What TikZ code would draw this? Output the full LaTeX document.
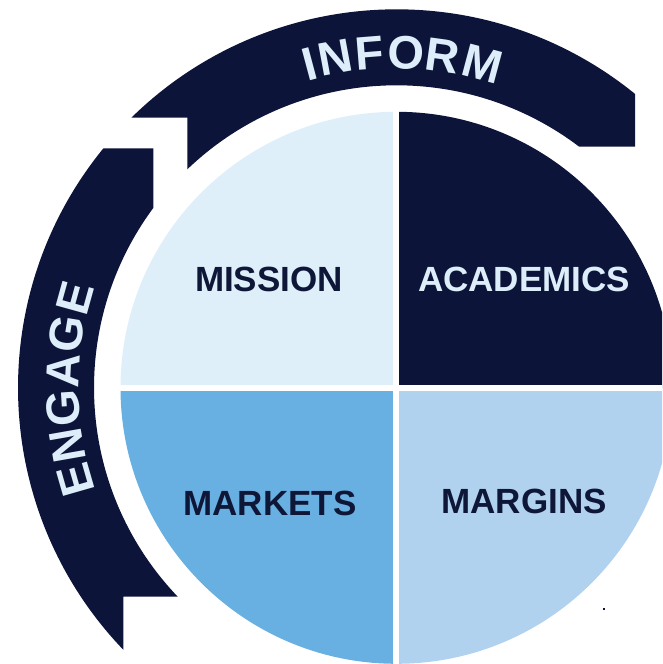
\documentclass[tikz,border=0pt]{standalone}
\usepackage{fontspec}
\setmainfont{Liberation Sans}
\definecolor{navy}{HTML}{0C1439}
\definecolor{missionc}{HTML}{DFEFFA}
\definecolor{marketsc}{HTML}{68B0E1}
\definecolor{marginsc}{HTML}{B1D2EF}
\definecolor{bandtext}{HTML}{DDEEFA}
\definecolor{quadtextc}{HTML}{0F1738}
\begin{document}
\begin{tikzpicture}[x=1pt,y=1pt,
  quadtext/.style={inner sep=0pt, font=\fontsize{35}{42}\selectfont\bfseries},
  bandletter/.style={inner sep=0pt, text=bandtext, font=\fontsize{47}{56}\selectfont\bfseries},
  band/.style={fill=navy}]
\useasboundingbox (-396.5,-276.2) rectangle (265.5,387.8);
\clip (-396.5,-276.2) rectangle (265.5,387.8);

% quadrants
\fill[missionc] (0,0) -- (180:276) arc[start angle=180,end angle=90,radius=276] -- cycle;
\fill[navy] (0,0) -- (90:276) arc[start angle=90,end angle=0,radius=276] -- cycle;
\fill[marketsc] (0,0) -- (270:276) arc[start angle=270,end angle=180,radius=276] -- cycle;
\fill[marginsc] (0,0) -- (0:276) arc[start angle=0,end angle=-90,radius=276] -- cycle;
\draw[white,line width=6pt] (-290,0) -- (290,0);
\draw[white,line width=6pt] (0,-290) -- (0,290);

% INFORM band
\fill[band] (134.47:378.5) arc[start angle=134.47,end angle=50.94,radius=378.5]
  -- (238.5,241.1) -- (52.84:302.5) arc[start angle=52.84,end angle=133.76,radius=302.5]
  -- (-209.2,270.1) -- cycle;

% ENGAGE band
\fill[band] (223.8:378.5) arc[start angle=223.8,end angle=140.75,radius=378.5]
  -- (-243.2,239.5) -- (143.51:302.5) arc[start angle=143.51,end angle=223.68,radius=302.5]
  -- (-273.2,-208.9) -- cycle;

% band letters
\foreach \ang/\ch/\k in {105.0/I/1,100.5/N/2,94.6/F/3,88.4/O/4,82.1/R/5,75.1/M/6}
  \node[bandletter,rotate=\ang-90] (inform\k) at (\ang:335.5) {\ch};
\foreach \ang/\ch/\k in {196.0/E/1,190.0/N/2,183.5/G/3,177.0/A/4,170.7/G/5,164.5/E/6}
  \node[bandletter,rotate=\ang-90] (engage\k) at (\ang:334) {\ch};

% quadrant labels
\node[quadtext,text=quadtextc] (mission) at (-127.5,108.8) {MISSION};
\node[quadtext,text=bandtext] (academics) at (127.5,108.8) {ACADEMICS};
\node[quadtext,text=quadtextc] (markets) at (-126.5,-115.8) {MARKETS};
\node[quadtext,text=quadtextc] (margins) at (127.7,-113.2) {MARGINS};

% small mark
\fill[navy] (206.8,-221.8) rectangle (208.8,-220.6);
\end{tikzpicture}
\end{document}
